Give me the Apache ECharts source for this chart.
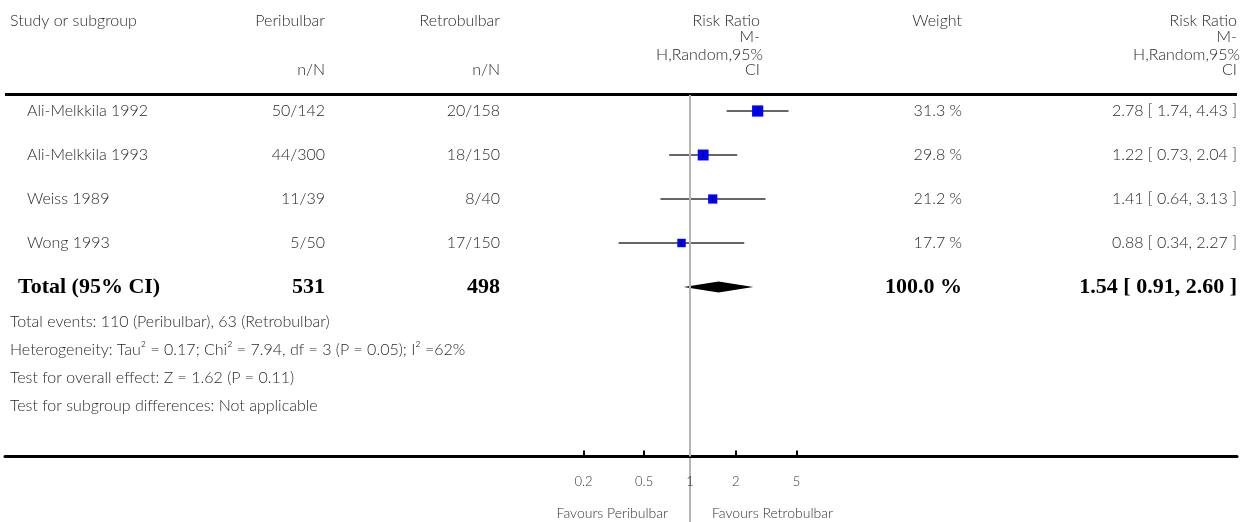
<!DOCTYPE html>
<html><head><meta charset="utf-8">
<script src="https://cdn.jsdelivr.net/npm/echarts@6/dist/echarts.min.js"></script>
<style>html,body{margin:0;padding:0;background:#fff}#c{width:1253px;height:522px}</style>
</head><body><div id="c"></div>
<script>
// ---- data ----
const studies = ['Ali-Melkkila 1992', 'Ali-Melkkila 1993', 'Weiss 1989', 'Wong 1993'];
const periEvents = [50, 44, 11, 5];
const periTotal = [142, 300, 39, 50];
const retroEvents = [20, 18, 8, 17];
const retroTotal = [158, 150, 40, 150];
const weights = [31.3, 29.8, 21.2, 17.7];
const rr = [2.78, 1.22, 1.41, 0.88];
const rrLo = [1.74, 0.73, 0.64, 0.34];
const rrHi = [4.43, 2.04, 3.13, 2.27];
const totalLabel = 'Total (95% CI)';
const totalPeri = 531;
const totalRetro = 498;
const totalWeight = '100.0 %';
const totalRR = [1.54, 0.91, 2.60];
const footnotes = [
  'Total events: 110 (Peribulbar), 63 (Retrobulbar)',
  'Heterogeneity: Tau\u00b2 = 0.17; Chi\u00b2 = 7.94, df = 3 (P = 0.05); I\u00b2 =62%',
  'Test for overall effect: Z = 1.62 (P = 0.11)',
  'Test for subgroup differences: Not applicable'
];
const tickValues = [0.2, 0.5, 1, 2, 5];
const tickLabels = ['0.2', '0.5', '1', '2', '5'];
const favoursLeft = 'Favours Peribulbar';
const favoursRight = 'Favours Retrobulbar';

// ---- chart ----
const L = Math.log10;
const chart = echarts.init(document.getElementById('c'));
const SANS = 'Lato';
const SERIF = 'Liberation Serif';
const TXT = '#2a2a2a';
const TXT_W = 300;

const pxPerDecade = 152.4;
const gridLeft = 5, gridRight = 16, oneX = 690;
const xMin = (gridLeft - oneX) / pxPerDecade;
const xMax = (1253 - gridRight - oneX) / pxPerDecade;
const gridTop = 95, gridBottom = 65.5, rowH = 44, firstRowOff = 16;
const yMin = -firstRowOff / rowH;
const yMax = yMin + (522 - gridTop - gridBottom) / rowH;

function fmtRR(a, b, c) { return a.toFixed(2) + ' [ ' + b.toFixed(2) + ', ' + c.toFixed(2) + ' ]'; }

chart.setOption({
  animation: false,
  grid: { left: gridLeft, right: gridRight, top: gridTop, bottom: gridBottom, outerBoundsMode: 'none', containLabel: false },
  xAxis: {
    type: 'value', min: xMin, max: xMax,
    axisLine: { show: true, onZero: false, lineStyle: { color: '#000', width: 3 } },
    axisTick: { show: true, inside: true, length: 6, lineStyle: { color: '#000', width: 2 },
      customValues: tickValues.filter(v => v !== 1).map(L) },
    axisLabel: { show: true, margin: 19, color: '#333', fontSize: 13, fontFamily: SANS, fontWeight: TXT_W,
      customValues: tickValues.map(L),
      formatter: v => { const k = tickValues.findIndex(t => Math.abs(L(t) - v) < 1e-6); return k >= 0 ? tickLabels[k] : ''; } },
    splitLine: { show: false }
  },
  yAxis: { type: 'value', inverse: true, min: yMin, max: yMax, show: false, splitLine: { show: false } },
  series: [
    {
      type: 'custom', clip: false, z: 3,
      data: studies.map((s, i) => [L(rr[i]), i, L(rrLo[i]), L(rrHi[i]), weights[i]]),
      encode: { x: [0, 2, 3], y: 1 },
      renderItem: function (params, api) {
        const y = api.coord([0, api.value(1)])[1];
        const xc = api.coord([api.value(0), 0])[0];
        const xl = api.coord([api.value(2), 0])[0];
        const xh = api.coord([api.value(3), 0])[0];
        const s = 2 * Math.sqrt(api.value(4));
        return { type: 'group', children: [
          { type: 'line', shape: { x1: xl, y1: y, x2: xh, y2: y }, style: { stroke: '#666', lineWidth: 2 } },
          { type: 'rect', shape: { x: xc - s / 2, y: y - s / 2, width: s, height: s }, style: { fill: '#0000ff' } },
          { type: 'line', shape: { x1: xc, y1: y - 2.5, x2: xc, y2: y + 2.5 }, style: { stroke: '#000', lineWidth: 1 } }
        ] };
      },
      markLine: {
        silent: true, symbol: 'none', animation: false,
        label: { show: false },
        lineStyle: { color: '#b5b5b5', width: 2, type: 'solid' },
        data: [{ xAxis: 0 }]
      }
    },
    {
      type: 'custom', clip: false, z: 3,
      data: [[L(totalRR[0]), studies.length, L(totalRR[1]), L(totalRR[2])]],
      encode: { x: [0, 2, 3], y: 1 },
      renderItem: function (params, api) {
        const y = api.coord([0, api.value(1)])[1];
        const xc = api.coord([api.value(0), 0])[0];
        const xl = api.coord([api.value(2), 0])[0];
        const xh = api.coord([api.value(3), 0])[0];
        const h = 5.5;
        return { type: 'polygon', shape: { points: [[xl, y], [xc, y - h], [xh, y], [xc, y + h]] }, style: { fill: '#000' } };
      }
    }
  ]
});

// ---- table text ----
const rowY = i => chart.convertToPixel({ yAxisIndex: 0 }, i);
const x1 = chart.convertToPixel({ xAxisIndex: 0 }, 0);
const axisY = 522 - gridBottom;
const els = [];
function t(text, x, y, align, opts) {
  opts = opts || {};
  els.push({ type: 'text', x: x, y: y, silent: true, z: 10, style: {
    text: text, fill: opts.fill || TXT, fontSize: opts.size || 16, fontFamily: opts.family || SANS,
    fontWeight: opts.weight || TXT_W, align: align, verticalAlign: 'middle',
    textAlign: align, textVerticalAlign: 'middle' } });
}
const colPeri = 325, colRetro = 500, colRRmid = 760, colW = 962, colRR = 1237;
const h1 = 21, h2 = 37, h3 = 55, h4 = 70;
t('Study or subgroup', 10, h1, 'left');
t('Peribulbar', colPeri, h1, 'right');
t('n/N', colPeri, h4, 'right');
t('Retrobulbar', colRetro, h1, 'right');
t('n/N', colRetro, h4, 'right');
t('Risk Ratio', colRRmid, h1, 'right');
t('M-', colRRmid, h2, 'right');
t('H,Random,95%', colRRmid + 3, h3, 'right');
t('CI', colRRmid, h4, 'right');
t('Weight', colW, h1, 'right');
t('Risk Ratio', colRR, h1, 'right');
t('M-', colRR, h2, 'right');
t('H,Random,95%', colRR + 3, h3, 'right');
t('CI', colRR, h4, 'right');

studies.forEach((s, i) => {
  const y = rowY(i);
  t(s, 27, y, 'left');
  t(periEvents[i] + '/' + periTotal[i], colPeri, y, 'right');
  t(retroEvents[i] + '/' + retroTotal[i], colRetro, y, 'right');
  t(weights[i].toFixed(1) + ' %', colW, y, 'right');
  t(fmtRR(rr[i], rrLo[i], rrHi[i]), colRR, y, 'right');
});
const yT = rowY(studies.length);
const bold = { size: 22, family: SERIF, weight: 'bold', fill: '#000' };
t(totalLabel, 18, yT, 'left', bold);
t(String(totalPeri), colPeri, yT, 'right', bold);
t(String(totalRetro), colRetro, yT, 'right', bold);
t(totalWeight, colW, yT, 'right', bold);
t(fmtRR(totalRR[0], totalRR[1], totalRR[2]), colRR, yT, 'right', bold);
footnotes.forEach((f, k) => t(f, 10, yT + 35 + 28 * k, 'left'));
t(favoursLeft, x1 - 22, 513, 'right', { size: 14, fill: '#333' });
t(favoursRight, x1 + 22, 513, 'left', { size: 14, fill: '#333' });
// header rule
els.push({ type: 'rect', silent: true, shape: { x: 5, y: 93, width: 1232, height: 3 }, style: { fill: '#000' } });
// reference line continues below the axis
els.push({ type: 'line', silent: true, z: 0, shape: { x1: x1, y1: axisY, x2: x1, y2: 522 }, style: { stroke: '#b5b5b5', lineWidth: 2 } });

chart.setOption({ graphic: { elements: els } });
</script>
</body></html>
